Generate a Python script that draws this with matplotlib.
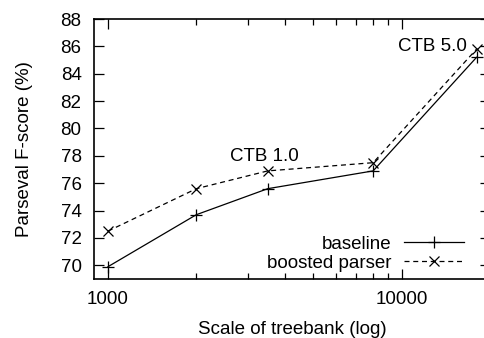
import numpy as np
import matplotlib
matplotlib.use("Agg")
import matplotlib.pyplot as plt
from matplotlib.ticker import FixedLocator, FixedFormatter, NullFormatter

plt.rcParams['font.family'] = ['Liberation Sans', 'DejaVu Sans']
plt.rcParams['font.size'] = 13.5

# treebank sizes and scores
sizes = [1000, 2000, 3500, 8000, 18000]
baseline = [69.9, 73.7, 75.6, 76.9, 85.2]
boosted = [72.5, 75.6, 76.9, 77.5, 85.8]
yticks = [70, 72, 74, 76, 78, 80, 82, 84, 86, 88]

fig = plt.figure(figsize=(4.84, 3.38), dpi=100)
# right spine sits just outside the image, as in the original crop
ax = fig.add_axes([94 / 484, 59 / 338, 396 / 484, 260 / 338])

ax.plot(sizes, baseline, color='black', lw=0.9, marker='+', ms=9, mew=0.9,
        label='baseline')
ax.plot(sizes, boosted, color='black', lw=0.9, ls=(0, (4, 3)), marker='x',
        ms=7, mew=0.9, label='boosted parser')

ax.set_xscale('log')
ax.set_xlim(896, 20000)
ax.set_ylim(69, 88)
ax.set_yticks(yticks)
ax.xaxis.set_major_locator(FixedLocator([1000, 10000]))
ax.xaxis.set_minor_locator(FixedLocator([2000, 3000, 4000, 5000, 6000, 7000, 8000, 9000]))
ax.xaxis.set_major_formatter(FixedFormatter(['1000', '10000']))
ax.xaxis.set_minor_formatter(NullFormatter())
ax.tick_params(which='both', direction='in', top=True, right=True, width=0.9)
ax.tick_params(which='major', length=7, pad=9)
ax.tick_params(which='minor', length=4)
ax.tick_params(axis='y', pad=9)
for s in ax.spines.values():
    s.set_linewidth(1.2)

ax.set_xlabel('Scale of treebank (log)', labelpad=9)
ax.set_ylabel('Parseval F-score (%)', labelpad=20)

ax.text(3400, 77.3, 'CTB 1.0', ha='center', va='bottom')
ax.text(16700, 85.4, 'CTB 5.0', ha='right', va='bottom')

ax.legend(loc='lower right', bbox_to_anchor=(0.968, -0.022), frameon=False,
          markerfirst=False, handlelength=3.2, handletextpad=0.7,
          labelspacing=0.08, borderpad=0.2)

fig.savefig('out.png', dpi=100)
